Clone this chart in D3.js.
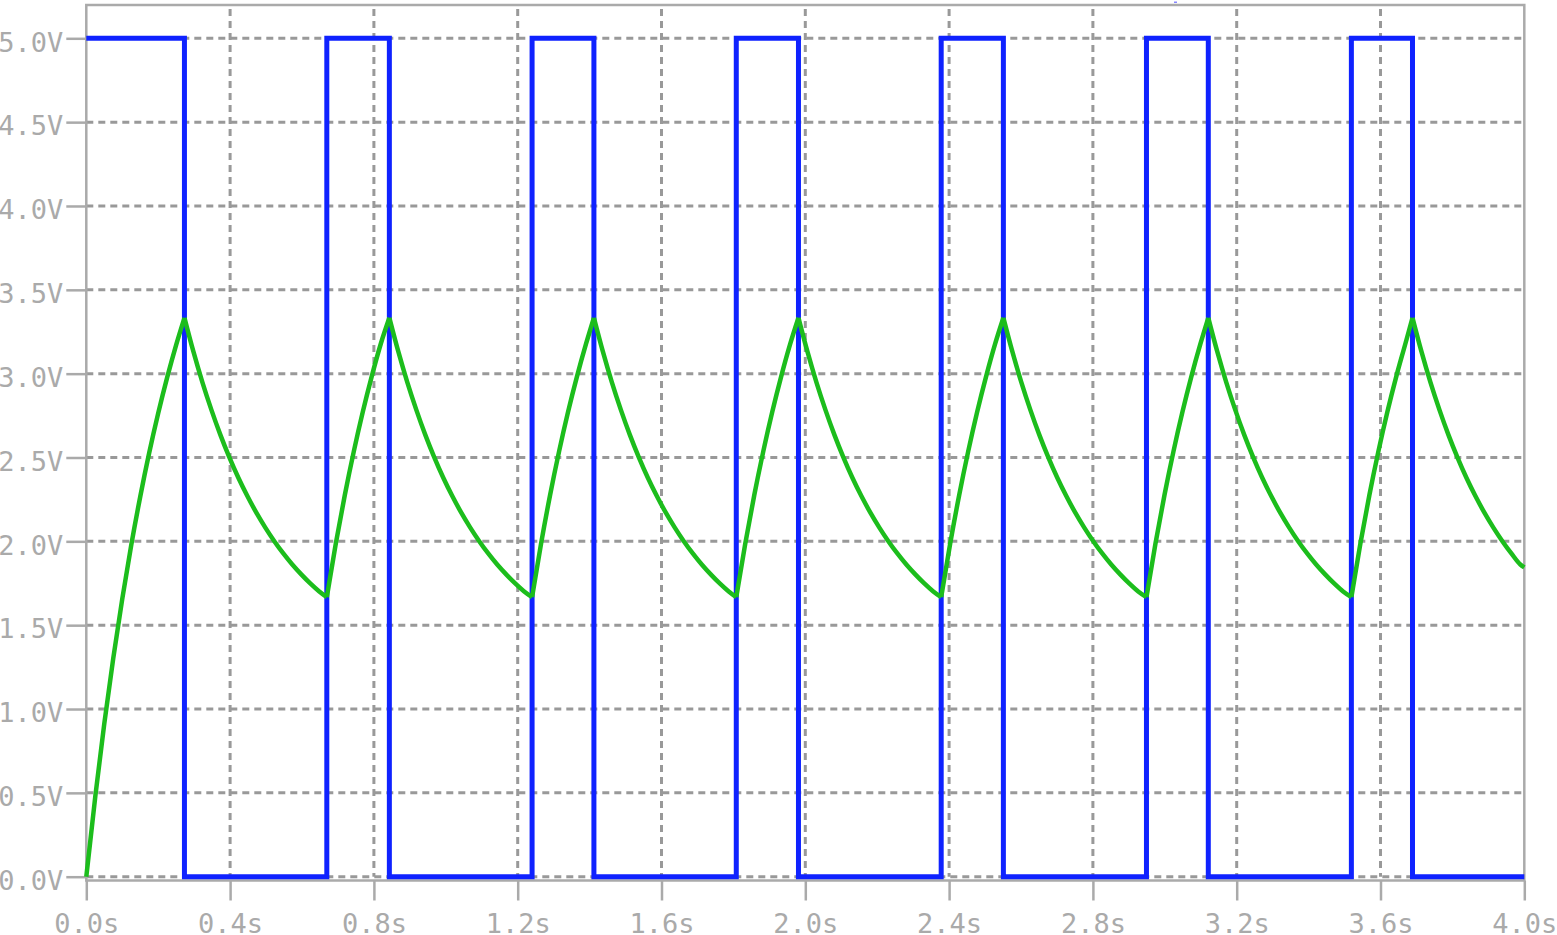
<!DOCTYPE html>
<html>
<head>
<meta charset="utf-8">
<script src="https://cdn.jsdelivr.net/npm/d3@7/dist/d3.min.js"></script>
<style>
  html, body { margin: 0; padding: 0; background: #ffffff; }
  svg { display: block; }
</style>
</head>
<body>
<svg width="1557" height="935"></svg>
<script>
/////////////////////////
// Données
/////////////////////////

// axes
var xTicks = [0.0, 0.4, 0.8, 1.2, 1.6, 2.0, 2.4, 2.8, 3.2, 3.6, 4.0];
var yTicks = [0.0, 0.5, 1.0, 1.5, 2.0, 2.5, 3.0, 3.5, 4.0, 4.5, 5.0];
var xTickLabels = ["0.0s", "0.4s", "0.8s", "1.2s", "1.6s", "2.0s", "2.4s", "2.8s", "3.2s", "3.6s", "4.0s"];
var yTickLabels = ["0.0V", "0.5V", "1.0V", "1.5V", "2.0V", "2.5V", "3.0V", "3.5V", "4.0V", "4.5V", "5.0V"];

// sortie (bleu) : instants de basculement et niveau après chaque instant
var outTimes  = [0, 0.273, 0.669, 0.843, 1.240, 1.412, 1.808, 1.981, 2.378, 2.551, 2.949, 3.121, 3.519, 3.689, 4.0];
var outLevels = [5, 0,     5,     0,     5,     0,     5,     0,     5,     0,     5,     0,     5,     0,     0];

// condensateur (vert) : [temps, tension], une ligne par charge / décharge
var capPoints = [
  [0, 0], [0.025, 0.479], [0.05, 0.912], [0.075, 1.303], [0.1, 1.656], [0.125, 1.977], [0.15, 2.266], [0.175, 2.528], [0.2, 2.764], [0.225, 2.978], [0.25, 3.172], [0.273, 3.333],
  [0.298, 3.131], [0.323, 2.948], [0.348, 2.784], [0.373, 2.635], [0.398, 2.501], [0.423, 2.379], [0.448, 2.270], [0.473, 2.171], [0.498, 2.082], [0.523, 2.001], [0.548, 1.928], [0.573, 1.862], [0.598, 1.803], [0.623, 1.749], [0.648, 1.701], [0.669, 1.667],
  [0.694, 1.986], [0.719, 2.275], [0.744, 2.535], [0.769, 2.771], [0.794, 2.984], [0.819, 3.177], [0.843, 3.333],
  [0.868, 3.131], [0.893, 2.948], [0.918, 2.784], [0.943, 2.635], [0.968, 2.501], [0.993, 2.379], [1.018, 2.270], [1.043, 2.171], [1.068, 2.082], [1.093, 2.001], [1.118, 1.928], [1.143, 1.862], [1.168, 1.803], [1.193, 1.749], [1.218, 1.701], [1.240, 1.667],
  [1.265, 1.986], [1.290, 2.275], [1.315, 2.535], [1.340, 2.771], [1.365, 2.984], [1.390, 3.177], [1.412, 3.333],
  [1.437, 3.131], [1.462, 2.948], [1.487, 2.784], [1.512, 2.635], [1.537, 2.501], [1.562, 2.379], [1.587, 2.270], [1.612, 2.171], [1.637, 2.082], [1.662, 2.001], [1.687, 1.928], [1.712, 1.862], [1.737, 1.803], [1.762, 1.749], [1.787, 1.701], [1.808, 1.667],
  [1.833, 1.986], [1.858, 2.275], [1.883, 2.535], [1.908, 2.771], [1.933, 2.984], [1.958, 3.177], [1.981, 3.333],
  [2.006, 3.131], [2.031, 2.948], [2.056, 2.784], [2.081, 2.635], [2.106, 2.501], [2.131, 2.379], [2.156, 2.270], [2.181, 2.171], [2.206, 2.082], [2.231, 2.001], [2.256, 1.928], [2.281, 1.862], [2.306, 1.803], [2.331, 1.749], [2.356, 1.701], [2.378, 1.667],
  [2.403, 1.986], [2.428, 2.275], [2.453, 2.535], [2.478, 2.771], [2.503, 2.984], [2.528, 3.177], [2.551, 3.333],
  [2.576, 3.131], [2.601, 2.948], [2.626, 2.784], [2.651, 2.635], [2.676, 2.501], [2.701, 2.379], [2.726, 2.270], [2.751, 2.171], [2.776, 2.082], [2.801, 2.001], [2.826, 1.928], [2.851, 1.862], [2.876, 1.803], [2.901, 1.749], [2.926, 1.701], [2.949, 1.667],
  [2.974, 1.986], [2.999, 2.275], [3.024, 2.535], [3.049, 2.771], [3.074, 2.984], [3.099, 3.177], [3.121, 3.333],
  [3.146, 3.131], [3.171, 2.948], [3.196, 2.784], [3.221, 2.635], [3.246, 2.501], [3.271, 2.379], [3.296, 2.270], [3.321, 2.171], [3.346, 2.082], [3.371, 2.001], [3.396, 1.928], [3.421, 1.862], [3.446, 1.803], [3.471, 1.749], [3.496, 1.701], [3.519, 1.667],
  [3.544, 1.986], [3.569, 2.275], [3.594, 2.535], [3.619, 2.771], [3.644, 2.984], [3.669, 3.177], [3.689, 3.333],
  [3.714, 3.131], [3.739, 2.948], [3.764, 2.784], [3.789, 2.635], [3.814, 2.501], [3.839, 2.379], [3.864, 2.270], [3.889, 2.171], [3.914, 2.082], [3.939, 2.001], [3.964, 1.928], [3.989, 1.862], [4.0, 1.845]
];

/////////////////////////
// Échelles
/////////////////////////

var frame = { left: 86.3, right: 1524.3, top: 5, bottom: 880.5 };

var x = d3.scaleLinear().domain([0, 4]).range([86.3, 1524.3]);
var y = d3.scaleLinear().domain([0, 5]).range([876.7, 38.3]);

var svg = d3.select("svg");
var grey = "#aaaaaa";
var font = "'DejaVu Sans Mono', monospace";

/////////////////////////
// Grille
/////////////////////////

var grid = svg.append("g").attr("id", "grid");

grid.selectAll(".vgrid")
    .data(xTicks.slice(1, -1))
    .enter().append("line")
    .attr("class", "vgrid")
    .attr("x1", function(d){ return x(d); })
    .attr("x2", function(d){ return x(d); })
    .attr("y1", frame.top + 4)
    .attr("y2", y(0))
    .attr("stroke", "#999999")
    .attr("stroke-width", 3)
    .attr("stroke-dasharray", "7,5");

grid.selectAll(".hgrid")
    .data(yTicks)
    .enter().append("line")
    .attr("class", "hgrid")
    .attr("x1", frame.left)
    .attr("x2", frame.right)
    .attr("y1", function(d){ return y(d); })
    .attr("y2", function(d){ return y(d); })
    .attr("stroke", "#999999")
    .attr("stroke-width", 3)
    .attr("stroke-dasharray", "7,5");

/////////////////////////
// Cadre et axes
/////////////////////////

svg.append("rect")
    .attr("x", frame.left)
    .attr("y", frame.top)
    .attr("width", frame.right - frame.left)
    .attr("height", frame.bottom - frame.top)
    .attr("fill", "none")
    .attr("stroke", grey)
    .attr("stroke-width", 2.5);

var xAxis = svg.append("g")
    .attr("transform", "translate(0," + frame.bottom + ")")
    .call(d3.axisBottom(x)
	  .tickValues(xTicks)
	  .tickFormat(function(d, i){ return xTickLabels[i]; })
	  .tickSize(20)
	  .tickPadding(13));

var yAxis = svg.append("g")
    .attr("transform", "translate(" + frame.left + ",0)")
    .call(d3.axisLeft(y)
	  .tickValues(yTicks)
	  .tickFormat(function(d, i){ return yTickLabels[i]; })
	  .tickSize(20)
	  .tickPadding(3));

yAxis.selectAll("text").attr("dy", "0.47em");

[xAxis, yAxis].forEach(function(ax){
    ax.select(".domain").remove();
    ax.selectAll("line").attr("stroke", grey).attr("stroke-width", 2.5);
    ax.selectAll("text")
	.attr("fill", grey)
	.attr("font-family", font)
	.attr("font-size", "27px");
});

// petit reste d'étiquette en haut
svg.append("rect")
    .attr("x", 1174).attr("y", 1.5)
    .attr("width", 3).attr("height", 1.5)
    .attr("fill", "#8888ff");

/////////////////////////
// Courbes
/////////////////////////

var outData = outTimes.map(function(t, i){ return [t, outLevels[i]]; });

svg.append("path")
    .datum(outData)
    .attr("fill", "none")
    .attr("stroke", "#0f22ff")
    .attr("stroke-width", 5)
    .attr("stroke-linejoin", "miter")
    .attr("d", d3.line()
	  .x(function(d){ return x(d[0]); })
	  .y(function(d){ return y(d[1]); })
	  .curve(d3.curveStepAfter));

// on coupe la courbe du condensateur à chaque pic / creux pour garder les angles vifs
var runs = [];
var cur = [capPoints[0]];
for (var i = 1; i < capPoints.length; i++) {
    cur.push(capPoints[i]);
    var next = capPoints[i + 1];
    if (next) {
	var up = capPoints[i][1] > capPoints[i - 1][1];
	var nextUp = next[1] > capPoints[i][1];
	if (up !== nextUp) { runs.push(cur); cur = [capPoints[i]]; }
    }
}
runs.push(cur);

var capLine = d3.line()
    .x(function(d){ return x(d[0]); })
    .y(function(d){ return y(d[1]); })
    .curve(d3.curveMonotoneX);

svg.append("g")
    .attr("id", "cap")
    .selectAll("path")
    .data(runs)
    .enter().append("path")
    .attr("fill", "none")
    .attr("stroke", "#1cbd1c")
    .attr("stroke-width", 4.5)
    .attr("stroke-linejoin", "miter")
    .attr("d", capLine);
</script>
</body>
</html>
